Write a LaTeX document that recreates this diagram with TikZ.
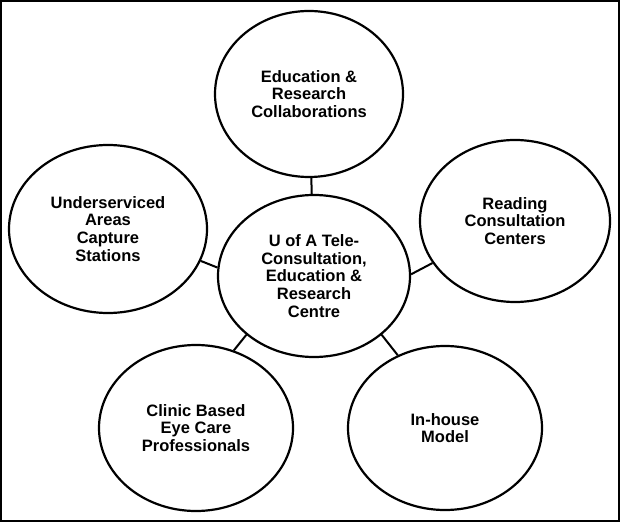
\documentclass[tikz,border=0pt]{standalone}
\usepackage{fontspec}
\newfontfamily\lblfont{Liberation Sans}
\usetikzlibrary{shapes.geometric}
\begin{document}
\begin{tikzpicture}[x=1bp,y=-1bp,
  bub/.style={draw, ellipse, line width=2.2bp, inner sep=0pt, align=center,
    font=\lblfont\bfseries\fontsize{16.5bp}{17.8bp}\selectfont},
  conn/.style={line width=2bp}]
\useasboundingbox (0,0) rectangle (620,522);
\draw[line width=2.2bp] (1,1) rectangle (619,521);
\node[bub, minimum width=188bp, minimum height=166bp] (t) at (309,94) {Education \&\\Research\\Collaborations};
\node[bub, minimum width=198bp, minimum height=168bp] (l) at (108,229) {Underserviced\\Areas\\Capture\\Stations};
\node[bub, minimum width=190bp, minimum height=162bp] (r) at (515,221) {Reading\\Consultation\\Centers};
\node[bub, minimum width=192bp, minimum height=162bp] (c) at (314,276) {U of A Tele-\\Consultation,\\Education \&\\Research\\Centre};
\node[bub, minimum width=194bp, minimum height=166bp] (bl) at (196,428) {Clinic Based\\Eye Care\\Professionals};
\node[bub, minimum width=194bp, minimum height=164bp] (br) at (445,428) {In-house\\Model};
\draw[conn] (c) -- (t);
\draw[conn] (c.175) -- (l.341);
\draw[conn] (c.1) -- (r.207);
\draw[conn] (c.221) -- (bl.64);
\draw[conn] (c.319) -- (br.123);
\end{tikzpicture}
\end{document}
